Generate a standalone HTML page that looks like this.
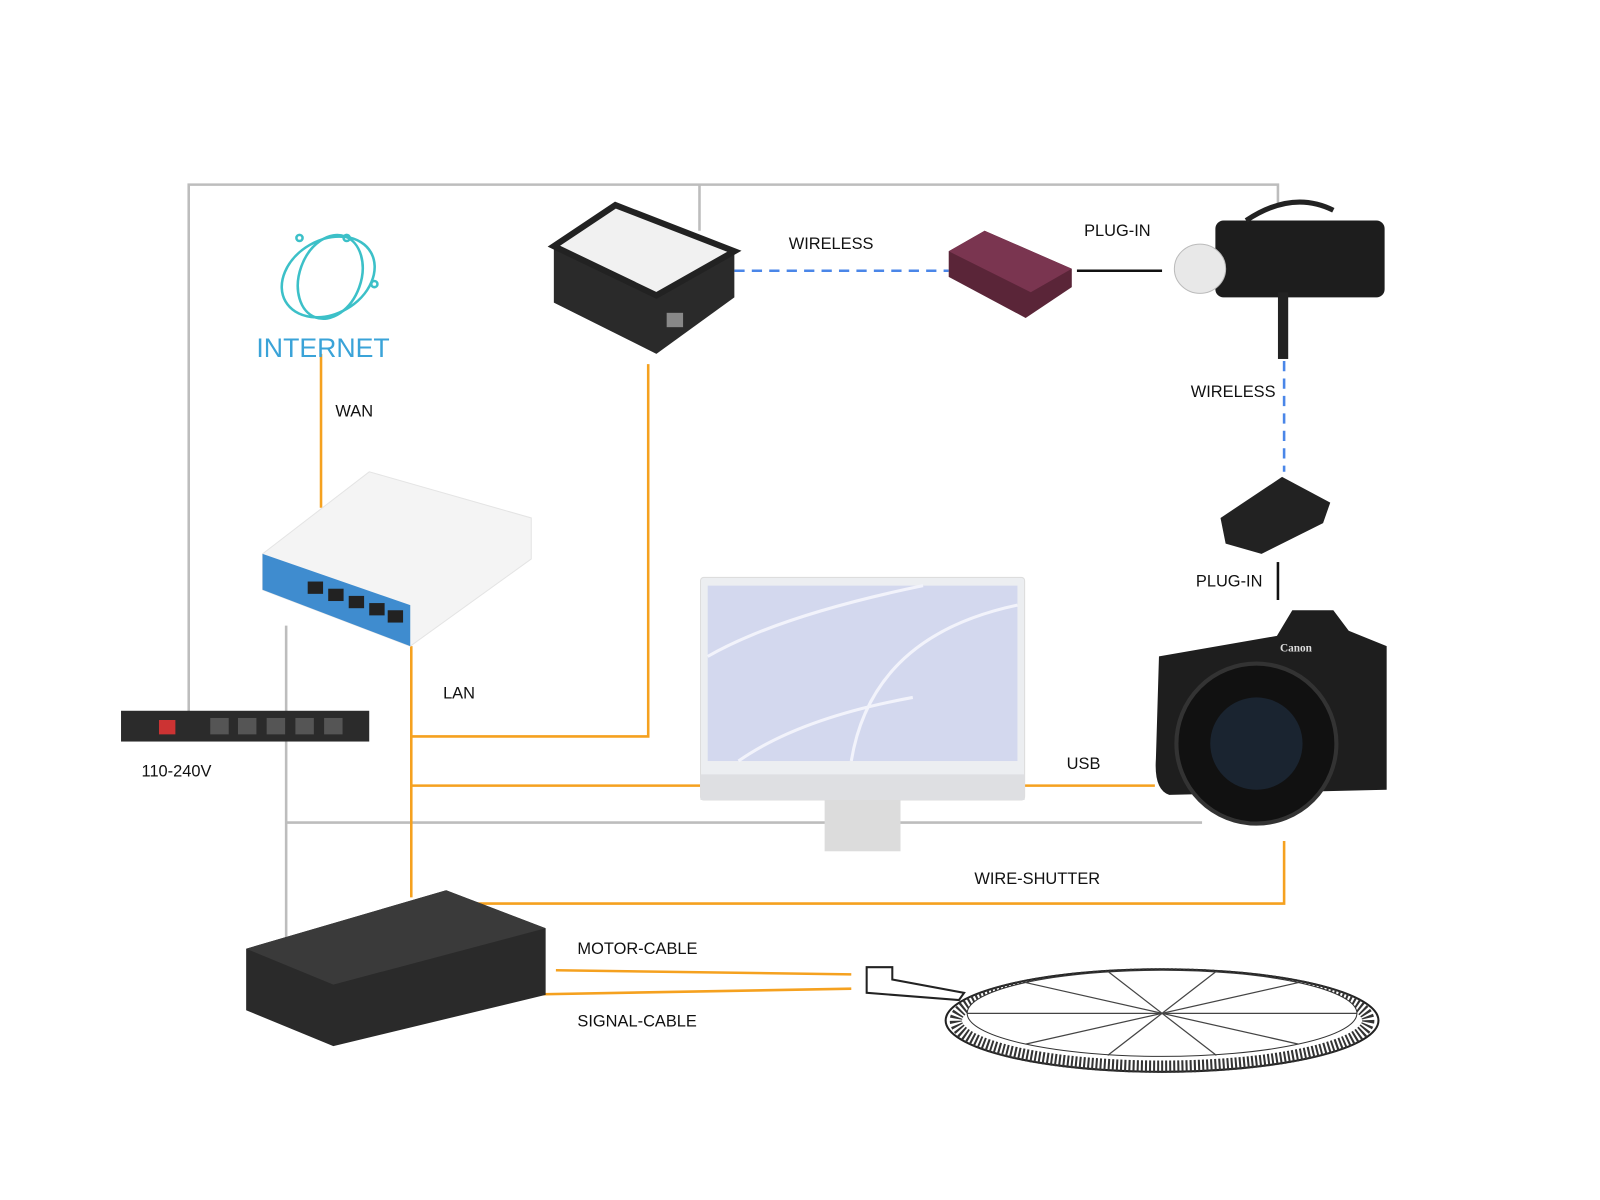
<!DOCTYPE html>
<html><head><meta charset="utf-8"><style>
html,body{margin:0;padding:0;background:#fff;}
svg{display:block;}
text{font-family:"Liberation Sans",sans-serif;font-size:16px;fill:#111;}
</style></head><body>
<svg width="1600" height="1200" viewBox="0 0 1560 1170" xmlns="http://www.w3.org/2000/svg">
<rect width="1560" height="1170" fill="#fff"/>
<g stroke="#bdbdbd" stroke-width="2.5" fill="none">
<polyline points="184,695 184,180 1246,180 1246,200"/>
<line x1="682" y1="180" x2="682" y2="225"/>
<line x1="279" y1="610" x2="279" y2="918"/>
<line x1="279" y1="802" x2="1172" y2="802"/>
</g>
<g stroke="#f5a11f" stroke-width="2.5" fill="none">
<line x1="313" y1="345" x2="313" y2="495"/>
<polyline points="632,355 632,718 401,718"/>
<line x1="401" y1="630" x2="401" y2="875"/>
<line x1="401" y1="766" x2="685" y2="766"/>
<line x1="998" y1="766" x2="1126" y2="766"/>
<polyline points="462,881 1252,881 1252,820"/>
<line x1="542" y1="946" x2="830" y2="950"/>
<line x1="495" y1="970" x2="830" y2="964"/>
</g>
<g stroke="#4a86e8" stroke-width="2.5" fill="none" stroke-dasharray="10,7">
<line x1="716" y1="264" x2="925" y2="264"/>
<line x1="1252" y1="352" x2="1252" y2="460"/>
</g>
<g stroke="#111" stroke-width="2.5">
<line x1="1050" y1="264" x2="1133" y2="264"/>
<line x1="1246" y1="548" x2="1246" y2="585"/>
</g>
<text x="769" y="243">WIRELESS</text>
<text x="1057" y="230">PLUG-IN</text>
<text x="1161" y="387">WIRELESS</text>
<text x="1166" y="572">PLUG-IN</text>
<text x="327" y="406">WAN</text>
<text x="432" y="681">LAN</text>
<text x="138" y="757">110-240V</text>
<text x="1040" y="750">USB</text>
<text x="950" y="862">WIRE-SHUTTER</text>
<text x="563" y="930">MOTOR-CABLE</text>
<text x="563" y="1001">SIGNAL-CABLE</text>
<g fill="none" stroke="#3cc0c8" stroke-width="2.5">
<ellipse cx="320" cy="270" rx="48" ry="36" transform="rotate(-30 320 270)"/>
<ellipse cx="322" cy="270" rx="30" ry="42" transform="rotate(20 322 270)"/>
<circle cx="292" cy="232" r="3"/><circle cx="338" cy="232" r="3"/><circle cx="365" cy="277" r="3"/>
</g>
<text x="250" y="348" style="font-size:26px;fill:#3aa3d8;">INTERNET</text>
<polygon points="540,240 600,200 716,245 716,290 640,345 540,295" fill="#2a2a2a"/>
<polygon points="540,240 600,200 716,245 640,288" fill="#f1f1f1" stroke="#222" stroke-width="6"/>
<rect x="650" y="305" width="16" height="14" fill="#888"/>
<polygon points="925,245 960,225 1045,262 1045,280 1000,310 925,270" fill="#5a2538"/>
<polygon points="925,245 960,225 1045,262 1005,285" fill="#7a3550"/>
<rect x="1185" y="215" width="165" height="75" rx="8" fill="#1d1d1d"/>
<ellipse cx="1170" cy="262" rx="25" ry="24" fill="#e8e8e8" stroke="#bbb"/>
<path d="M1215,215 Q1260,185 1300,205" stroke="#222" stroke-width="5" fill="none"/>
<rect x="1246" y="285" width="10" height="65" fill="#222"/>
<polygon points="1190,505 1250,465 1297,490 1290,510 1230,540 1195,530" fill="#222"/>
<polygon points="256,540 360,460 518,505 518,545 400,630 256,575" fill="#f4f4f4" stroke="#e4e4e4"/>
<polygon points="256,540 400,590 400,630 256,575" fill="#3f8ccf"/>
<g fill="#222"><rect x="300" y="567" width="15" height="12"/><rect x="320" y="574" width="15" height="12"/><rect x="340" y="581" width="15" height="12"/><rect x="360" y="588" width="15" height="12"/><rect x="378" y="595" width="15" height="12"/></g>
<rect x="118" y="693" width="242" height="30" fill="#2b2b2b"/>
<rect x="155" y="702" width="16" height="14" fill="#c33"/>
<g fill="#555"><rect x="205" y="700" width="18" height="16"/><rect x="232" y="700" width="18" height="16"/><rect x="260" y="700" width="18" height="16"/><rect x="288" y="700" width="18" height="16"/><rect x="316" y="700" width="18" height="16"/></g>
<rect x="683" y="563" width="316" height="217" rx="3" fill="#eceef1" stroke="#ddd"/>
<rect x="690" y="571" width="302" height="171" fill="#d3d8ee"/>
<path d="M690,640 Q760,600 900,571 M830,742 Q850,620 992,590 M720,742 Q780,700 890,680" stroke="#f2f3fb" stroke-width="3" fill="none"/>
<rect x="683" y="755" width="316" height="25" fill="#dedfe2"/>
<rect x="804" y="780" width="74" height="50" fill="#dcdcdc"/>
<path d="M1130,640 L1245,620 L1260,595 L1300,595 L1315,615 L1352,630 L1352,770 L1140,775 Q1125,770 1127,740 Z" fill="#1e1e1e"/>
<circle cx="1225" cy="725" r="78" fill="#111" stroke="#333" stroke-width="4"/>
<circle cx="1225" cy="725" r="45" fill="#1a2430"/>
<text x="1248" y="635" style="font-size:11px;fill:#ddd;font-family:'Liberation Serif',serif;font-weight:bold">Canon</text>
<polygon points="240,925 435,868 532,905 532,970 325,1020 240,985" fill="#2a2a2a"/>
<polygon points="240,925 435,868 532,905 325,960" fill="#3a3a3a"/>
<ellipse cx="1133" cy="995" rx="211" ry="50" fill="#fff" stroke="#222" stroke-width="2"/>
<ellipse cx="1133" cy="995" rx="201" ry="45" fill="none" stroke="#333" stroke-width="12" stroke-dasharray="2,2"/>
<ellipse cx="1133" cy="988" rx="190" ry="42" fill="#fff" stroke="#333"/>
<g stroke="#444" stroke-width="1.2">
<line x1="943" y1="988" x2="1323" y2="988"/><line x1="1000" y1="958" x2="1266" y2="1018"/><line x1="1000" y1="1018" x2="1266" y2="958"/><line x1="1080" y1="947" x2="1186" y2="1029"/><line x1="1080" y1="1029" x2="1186" y2="947"/>
</g>
<polygon points="845,943 870,943 870,955 940,968 935,975 845,968" fill="#fff" stroke="#222" stroke-width="2"/>
</svg>
</body></html>
